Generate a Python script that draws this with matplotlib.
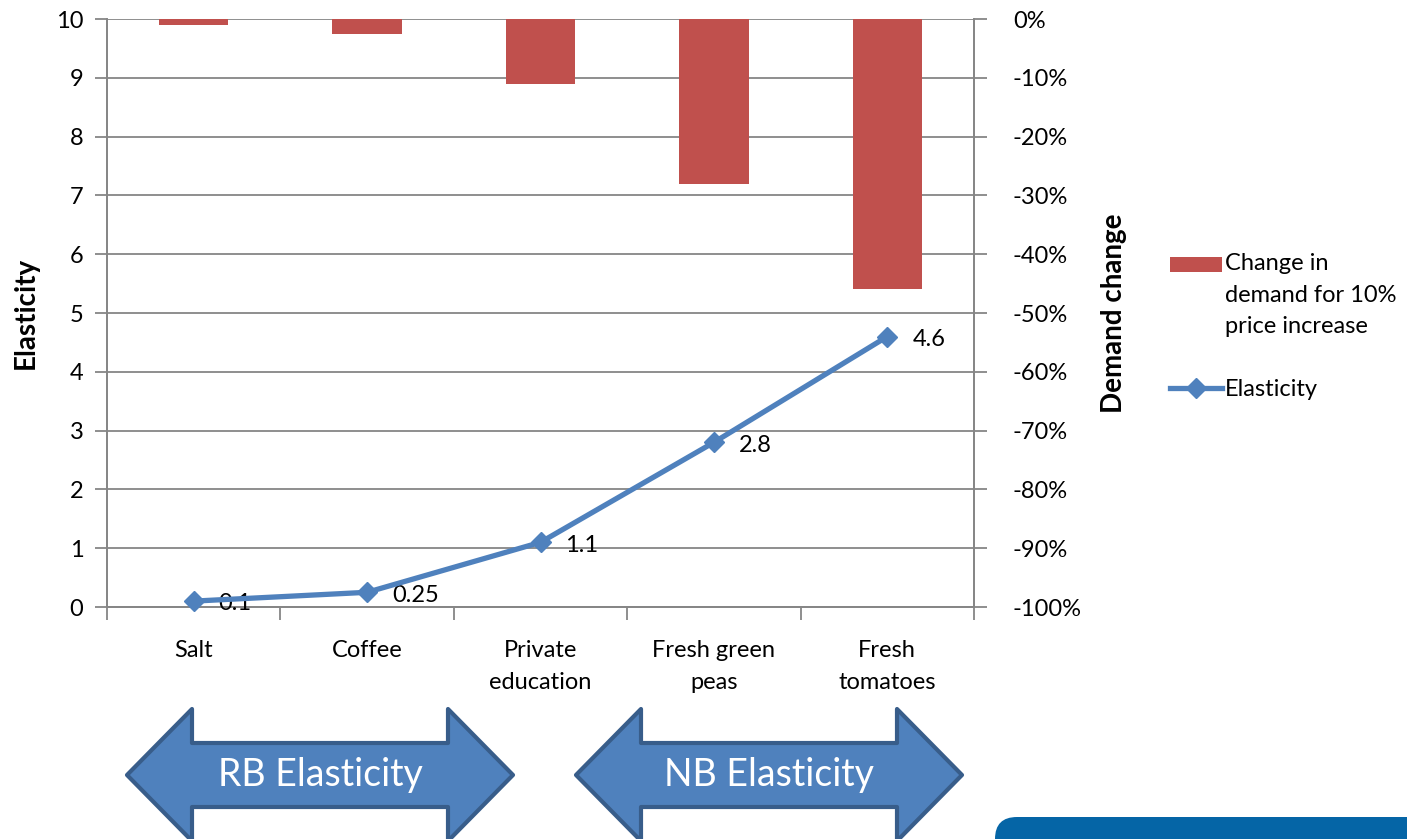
import numpy as np
import matplotlib
matplotlib.use("Agg")
import matplotlib.pyplot as plt
from matplotlib.patches import Polygon, FancyBboxPatch, Rectangle
from matplotlib.lines import Line2D
from matplotlib.legend_handler import HandlerPatch

plt.rcParams['font.family'] = ['Lato', 'DejaVu Sans']

# goods and their price elasticity
goods = ["Salt", "Coffee", "Private\neducation", "Fresh green\npeas", "Fresh\ntomatoes"]
elasticity = [0.1, 0.25, 1.1, 2.8, 4.6]
# % fall in demand for a 10% price increase
demand_change = [-1, -2.5, -11, -28, -46]
elast_labels = ["0.1", "0.25", "1.1", "2.8", "4.6"]

W, H = 1407, 839
fig = plt.figure(figsize=(W / 100, H / 100), dpi=100)
left, right, top, bottom = 107, 974, 19, 607
rect = [left / W, 1 - bottom / H, (right - left) / W, (bottom - top) / H]

grey = "#868686"
red = "#c0504d"
blue = "#4f81bd"
fs = 17

# right axis (demand change) sits underneath, carries the grid and bars
ax2 = fig.add_axes(rect)
ax = ax2.twinx()
ax2.yaxis.tick_right()
ax2.yaxis.set_label_position("right")
ax.yaxis.tick_left()
ax.yaxis.set_label_position("left")

x = np.arange(len(goods))
bars = ax2.bar(x, demand_change, width=0.4, color=red, zorder=2)
ax2.set_ylim(-100, 0)
ax2.set_yticks(np.arange(-100, 1, 10))
ax2.set_yticklabels([f"{v}%" for v in range(-100, 1, 10)])
ax2.grid(axis="y", color=grey, lw=1.3, zorder=0)
ax2.set_axisbelow(True)
ax2.set_xlim(-0.5, len(goods) - 0.5)
ax2.set_xticks(x)
ax2.set_xticklabels(goods, fontsize=fs, linespacing=1.6)
ax2.set_xticks(np.arange(-0.5, len(goods), 1), minor=True)
ax2.tick_params(axis="x", which="major", length=0, pad=24)
ax2.tick_params(axis="x", which="minor", length=9, width=1.3, color=grey)
ax2.tick_params(axis="y", length=9, width=1.3, color=grey, labelsize=fs, pad=19)
for tl in ax2.get_yticklabels():
    tl.set_horizontalalignment("left")
ax2.set_ylabel("Demand change", fontsize=20, fontweight="bold", labelpad=14)

# left axis (elasticity) on top, transparent
ax.set_zorder(ax2.get_zorder() + 1)
ax.patch.set_visible(False)
line, = ax.plot(x, elasticity, color=blue, lw=3.8, marker="D", ms=10,
                mec=blue, mfc=blue, zorder=5, clip_on=False)
for xi, yi, lab in zip(x, elasticity, elast_labels):
    ax.annotate(lab, (xi, yi), xytext=(18, -2), textcoords="offset points",
                ha="left", va="center", fontsize=fs)
ax.set_ylim(0, 10)
ax.set_yticks(np.arange(0, 11, 1))
ax.tick_params(axis="y", length=9, width=1.3, color=grey, labelsize=fs, pad=8)
ax.set_ylabel("Elasticity", fontsize=20, fontweight="bold", labelpad=12)

for a in (ax, ax2):
    a.spines["top"].set_visible(False)
    for s in ("left", "right", "bottom"):
        a.spines[s].set_color(grey)
        a.spines[s].set_linewidth(1.3)


def top_patch(legend, orig_handle, xdescent, ydescent, width, height, fontsize):
    # put the bar swatch next to the first line of the label
    return Rectangle((-xdescent, -ydescent + 1.35 * fontsize), width, height * 0.9)


leg_handles = [bars.patches[0], Line2D([], [], color=blue, lw=3.8, marker="D", ms=10)]
leg = fig.legend(leg_handles, ["Change in\ndemand for 10%\nprice increase", "Elasticity"],
                 loc="upper left", bbox_to_anchor=(1161 / W, 1 - 244 / H),
                 frameon=False, fontsize=fs, handlelength=2.2, handletextpad=0.1,
                 labelspacing=1.8, borderaxespad=0,
                 handler_map={Rectangle: HandlerPatch(patch_func=top_patch)})
for t in leg.get_texts():
    t.set_linespacing(1.6)

# overlay in pixel coordinates for the double arrows
ov = fig.add_axes([0, 0, 1, 1])
ov.set_xlim(0, W)
ov.set_ylim(H, 0)
ov.axis("off")


def double_arrow(x0, x1, text):
    cy = 775
    head = 65
    hh = 66
    sh = 32
    pts = [(x0, cy), (x0 + head, cy - hh), (x0 + head, cy - sh), (x1 - head, cy - sh),
           (x1 - head, cy - hh), (x1, cy), (x1 - head, cy + hh), (x1 - head, cy + sh),
           (x0 + head, cy + sh), (x0 + head, cy + hh)]
    ov.add_patch(Polygon(pts, closed=True, fc=blue, ec="#385d8a", lw=3,
                         joinstyle="round"))
    ov.text((x0 + x1) / 2, cy, text, color="white", fontsize=27,
            ha="center", va="center")


double_arrow(127, 513, "RB Elasticity")
double_arrow(576, 962, "NB Elasticity")

ov.add_patch(FancyBboxPatch((995, 817), 500, 60,
                            boxstyle="round,pad=0,rounding_size=22",
                            fc="#0565a6", ec="none", clip_on=False))

fig.savefig("out.png", dpi=100)
